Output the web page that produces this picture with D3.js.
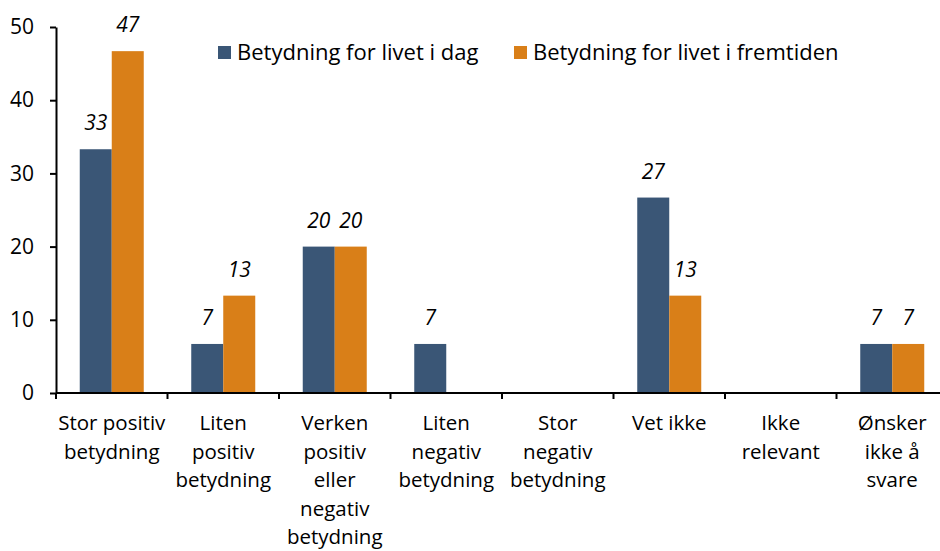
<html lang="en">
<head>
<meta charset="utf-8">
<title></title>
<style>
  body { margin: 0; background: #fff; }
  svg text { font-family: "Open Sans", sans-serif; fill: #000; }
  .axis path, .axis line { stroke: #000; stroke-width: 2; }
</style>
<script src="https://d3js.org/d3.v7.min.js"></script>
</head>
<body>
<svg id="chart" width="940" height="551"></svg>
<script>
// data
var categories = ["Stor positiv|betydning", "Liten|positiv|betydning", "Verken|positiv|eller|negativ|betydning",
  "Liten|negativ|betydning", "Stor|negativ|betydning", "Vet ikke", "Ikke|relevant", "Ønsker|ikke å|svare"];
var seriesNames = ["Betydning for livet i dag", "Betydning for livet i fremtiden"];
var today = [33.3, 6.7, 20, 6.7, 0, 26.7, 0, 6.7];
var future = [46.7, 13.3, 20, 0, 0, 13.3, 0, 6.7];
var yTicks = [0, 10, 20, 30, 40, 50];
var colors = ["#3a5676", "#d97f18"];

var svg = d3.select("#chart");

// plot area
var x0 = 56, x1 = 948, yBottom = 393, yTop = 27;

var x = d3.scaleBand().domain(d3.range(categories.length)).range([x0, x1]);
var xs = d3.scaleBand().domain([0, 1]).range([0, 64]);
var y = d3.scaleLinear().domain([0, 50]).range([yBottom, yTop]);

var series = [today, future];

function barX(i, s) { return x(i) + (x.bandwidth() - 64) / 2 + xs(s); }

// bars
series.forEach(function(vals, s) {
  var rows = vals.map(function(v, i) { return {i: i, v: v}; });
  var g = svg.append("g");
  g.selectAll("rect")
    .data(rows)
    .enter().append("rect")
    .attr("x", function(d) { return barX(d.i, s); })
    .attr("y", function(d) { return y(d.v); })
    .attr("width", xs.bandwidth())
    .attr("height", function(d) { return yBottom - y(d.v); })
    .attr("fill", colors[s]);

  g.selectAll("text")
    .data(rows.filter(function(d) { return d.v > 0; }))
    .enter().append("text")
    .attr("x", function(d) { return barX(d.i, s) + xs.bandwidth() / 2; })
    .attr("y", function(d) { return y(d.v) - 19; })
    .attr("text-anchor", "middle")
    .style("font-size", "21px")
    .style("font-style", "italic")
    .text(function(d) { return Math.round(d.v); });
});

// y axis
var yAxis = svg.append("g")
  .attr("class", "axis")
  .attr("transform", "translate(" + x0 + ",0)")
  .call(d3.axisLeft(y).tickValues(yTicks).tickSize(6).tickSizeOuter(0).tickPadding(16));
yAxis.selectAll("text").style("font-size", "21px");

// x axis
var xAxis = svg.append("g")
  .attr("class", "axis")
  .attr("transform", "translate(0," + yBottom + ")");
xAxis.append("line")
  .attr("x1", x0).attr("x2", 940)
  .attr("y1", 0).attr("y2", 0);
xAxis.selectAll(".tick")
  .data(d3.range(categories.length))
  .enter().append("line")
  .attr("x1", function(d) { return x(d); })
  .attr("x2", function(d) { return x(d); })
  .attr("y1", 0).attr("y2", 6);

// category labels
svg.selectAll(".cat")
  .data(categories)
  .enter().append("text")
  .attr("class", "cat")
  .attr("text-anchor", "middle")
  .style("font-size", "20.5px")
  .each(function(d, i) {
    var t = d3.select(this);
    d.split("|").forEach(function(line, j) {
      t.append("tspan")
        .attr("x", x(i) + x.bandwidth() / 2)
        .attr("y", 430 + j * 28.5)
        .text(line);
    });
  });

// legend
var legendX = [218, 514];
var legend = svg.selectAll(".legend")
  .data(seriesNames)
  .enter().append("g")
  .attr("class", "legend")
  .attr("transform", function(d, i) { return "translate(" + legendX[i] + ",46)"; });
legend.append("rect")
  .attr("width", 13).attr("height", 13)
  .attr("fill", function(d, i) { return colors[i]; });
legend.append("text")
  .attr("x", 19).attr("y", 13.5)
  .style("font-size", "22px")
  .text(function(d) { return d; });
</script>
</body>
</html>
